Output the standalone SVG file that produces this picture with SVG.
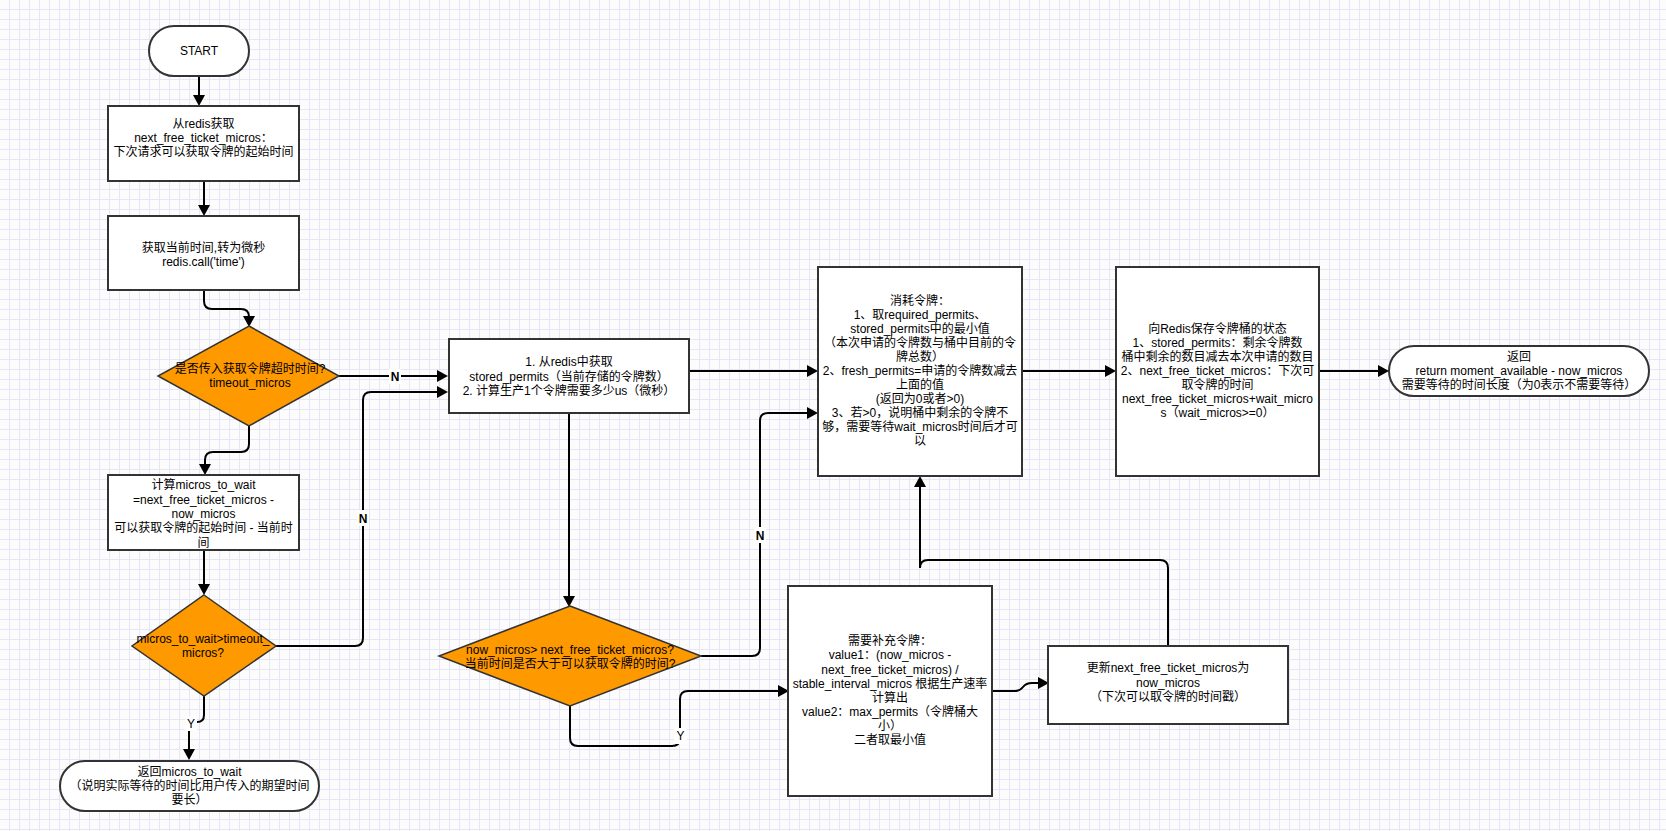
<svg xmlns="http://www.w3.org/2000/svg" width="1666" height="831" viewBox="0 0 1666 831">
<defs>
<pattern id="grid" x="0" y="0" width="10" height="10" patternUnits="userSpaceOnUse">
<path d="M9.5 0V10M0 9.5H10" fill="none" stroke="#e6e6f7" stroke-width="1"/>
</pattern>
<marker id="arr" viewBox="0 0 11 12" markerWidth="11" markerHeight="12" refX="1" refY="6" orient="auto" markerUnits="userSpaceOnUse">
<path d="M0,0 L11,6 L0,12 Z" fill="#000"/>
</marker>
<style>
.box{fill:#fff;stroke:#333;stroke-width:2}
.dia{fill:#ff9900;stroke:#333;stroke-width:1.5}
.t{font-family:"Liberation Sans","Noto Sans CJK SC",sans-serif;font-size:12px;fill:#000;text-anchor:middle}
.edge{fill:none;stroke:#000;stroke-width:2}
.lbl{font-family:"Liberation Sans","Noto Sans CJK SC",sans-serif;font-size:12px;fill:#000;text-anchor:middle}
.lb{fill:#fff}
</style>
</defs>
<rect width="1666" height="831" fill="#fcfcfd"/>
<rect width="1666" height="831" fill="url(#grid)"/>

<g id="connectors">
<path class="edge" d="M199,76 V96" marker-end="url(#arr)"/>
<path class="edge" d="M204,181 V206" marker-end="url(#arr)"/>
<path class="edge" d="M204,290 V301 Q204,309 212,309 H241 Q249,309 249,317" marker-end="url(#arr)"/>
<path class="edge" d="M339,376 H438" marker-end="url(#arr)"/>
<path class="edge" d="M249,426 V444 Q249,452 241,452 H213 Q205,452 205,460 V465" marker-end="url(#arr)"/>
<path class="edge" d="M204,550 V585" marker-end="url(#arr)"/>
<path class="edge" d="M276,646 H355 Q363,646 363,638 V400 Q363,392 371,392 H438" marker-end="url(#arr)"/>
<path class="edge" d="M204,696 V715 Q204,722 197,722 H196 Q189,722 189,729 V750" marker-end="url(#arr)"/>
<path class="edge" d="M689,371 H808" marker-end="url(#arr)"/>
<path class="edge" d="M569,413 V597" marker-end="url(#arr)"/>
<path class="edge" d="M701,656 H752 Q760,656 760,648 V421 Q760,413 768,413 H808" marker-end="url(#arr)"/>
<path class="edge" d="M570,706 V738 Q570,746 578,746 H672 Q680,746 680,738 V699 Q680,691 688,691 H779" marker-end="url(#arr)"/>
<path class="edge" d="M1022,371 H1106" marker-end="url(#arr)"/>
<path class="edge" d="M1319,371 H1379" marker-end="url(#arr)"/>
<path class="edge" d="M992,691 H1015 Q1020,691 1023,687 Q1026,683 1032,683 H1039" marker-end="url(#arr)"/>
<path class="edge" d="M1168,646 V568 Q1168,560 1160,560 H928 Q920,560 920,568 V486" marker-end="url(#arr)"/>
<rect class="lb" x="389" y="369" width="12" height="15"/>
<text class="lbl" x="395" y="380.5" font-weight="bold">N</text>
<rect class="lb" x="357" y="510" width="12" height="16"/>
<text class="lbl" x="363" y="522.5" font-weight="bold">N</text>
<rect class="lb" x="754" y="527" width="12" height="16"/>
<text class="lbl" x="760" y="539.5" font-weight="bold">N</text>
<rect class="lb" x="185" y="716" width="12" height="15"/>
<text class="lbl" x="191" y="727.5">Y</text>
<rect class="lb" x="674" y="728" width="13" height="16"/>
<text class="lbl" x="680.5" y="740">Y</text>
</g>

<g id="start">
<rect class="box" x="149" y="26" width="100" height="50" rx="25" ry="25"/>
<text class="t" x="199" y="55">START</text>
</g>

<g id="get-next-free">
<rect class="box" x="108" y="106" width="191" height="75"/>
<text class="t"><tspan x="203.5" y="127.5">从redis获取</tspan><tspan x="203.5" y="141.8">next_free_ticket_micros：</tspan><tspan x="203.5" y="156.1">下次请求可以获取令牌的起始时间</tspan></text>
</g>

<g id="get-time">
<rect class="box" x="108" y="216" width="191" height="74"/>
<text class="t"><tspan x="203.5" y="251.7">获取当前时间,转为微秒</tspan><tspan x="203.5" y="265.5">redis.call('time')</tspan></text>
</g>

<g id="has-timeout">
<polygon class="dia" points="249,326 339,376 249,426 158,376"/>
<text class="t"><tspan x="250" y="373.3">是否传入获取令牌超时时间?</tspan><tspan x="250" y="387.3">timeout_micros</tspan></text>
</g>

<g id="calc-wait">
<rect class="box" x="108" y="475" width="191" height="75"/>
<text class="t"><tspan x="203.5" y="489.3">计算micros_to_wait</tspan><tspan x="203.5" y="503.6">=next_free_ticket_micros -</tspan><tspan x="203.5" y="517.9">now_micros</tspan><tspan x="203.5" y="532.2">可以获取令牌的起始时间 - 当前时</tspan><tspan x="203.5" y="546.5">间</tspan></text>
</g>

<g id="wait-gt-timeout">
<polygon class="dia" points="204,595 276,646 204,696 132,646"/>
<text class="t"><tspan x="203" y="643.3">micros_to_wait&gt;timeout_</tspan><tspan x="203" y="657.3">micros?</tspan></text>
</g>

<g id="return-wait">
<rect class="box" x="60" y="761" width="259" height="50" rx="25" ry="25"/>
<text class="t"><tspan x="189.5" y="776.3">返回micros_to_wait</tspan><tspan x="189.5" y="790.3">（说明实际等待的时间比用户传入的期望时间</tspan><tspan x="189.5" y="804.3">要长）</tspan></text>
</g>

<g id="stored-permits">
<rect class="box" x="449" y="339" width="240" height="74"/>
<text class="t"><tspan x="569" y="366.3">1. 从redis中获取</tspan><tspan x="569" y="380.6">stored_permits（当前存储的令牌数）</tspan><tspan x="569" y="394.9">2. 计算生产1个令牌需要多少us（微秒）</tspan></text>
</g>

<g id="now-gt-next">
<polygon class="dia" points="570,606 701,656 570,706 439,656"/>
<text class="t"><tspan x="570" y="654.3">now_micros&gt; next_free_ticket_micros?</tspan><tspan x="570" y="668.3">当前时间是否大于可以获取令牌的时间?</tspan></text>
</g>

<g id="consume">
<rect class="box" x="818" y="267" width="204" height="209"/>
<text class="t"><tspan x="920" y="305">消耗令牌：</tspan><tspan x="920" y="319">1、取required_permits、</tspan><tspan x="920" y="333.1">stored_permits中的最小值</tspan><tspan x="920" y="347.1">（本次申请的令牌数与桶中目前的令</tspan><tspan x="920" y="361.1">牌总数）</tspan><tspan x="920" y="375.2">2、fresh_permits=申请的令牌数减去</tspan><tspan x="920" y="389.2">上面的值</tspan><tspan x="920" y="403.2">(返回为0或者&gt;0)</tspan><tspan x="920" y="417.3">3、若&gt;0，说明桶中剩余的令牌不</tspan><tspan x="920" y="431.3">够，需要等待wait_micros时间后才可</tspan><tspan x="920" y="445.3">以</tspan></text>
</g>

<g id="save-state">
<rect class="box" x="1116" y="267" width="203" height="209"/>
<text class="t"><tspan x="1217.5" y="333.3">向Redis保存令牌桶的状态</tspan><tspan x="1217.5" y="347.3">1、stored_permits：剩余令牌数</tspan><tspan x="1217.5" y="361.3">桶中剩余的数目减去本次申请的数目</tspan><tspan x="1217.5" y="375.3">2、next_free_ticket_micros：下次可</tspan><tspan x="1217.5" y="389.3">取令牌的时间</tspan><tspan x="1217.5" y="403.3">next_free_ticket_micros+wait_micro</tspan><tspan x="1217.5" y="417.3">s（wait_micros&gt;=0）</tspan></text>
</g>

<g id="return-end">
<rect class="box" x="1389" y="346" width="260" height="50" rx="25" ry="25"/>
<text class="t"><tspan x="1519" y="361.3">返回</tspan><tspan x="1519" y="375.3">return moment_available - now_micros</tspan><tspan x="1519" y="389.3">需要等待的时间长度（为0表示不需要等待）</tspan></text>
</g>

<g id="refill">
<rect class="box" x="788" y="586" width="204" height="210"/>
<text class="t"><tspan x="890" y="645.3">需要补充令牌：</tspan><tspan x="890" y="659.4">value1：(now_micros -</tspan><tspan x="890" y="673.6">next_free_ticket_micros) /</tspan><tspan x="890" y="687.7">stable_interval_micros 根据生产速率</tspan><tspan x="890" y="701.9">计算出</tspan><tspan x="890" y="716">value2：max_permits（令牌桶大</tspan><tspan x="890" y="730.1">小）</tspan><tspan x="890" y="744.3">二者取最小值</tspan></text>
</g>

<g id="update-next">
<rect class="box" x="1048" y="646" width="240" height="78"/>
<text class="t"><tspan x="1168" y="672.3">更新next_free_ticket_micros为</tspan><tspan x="1168" y="686.6">now_micros</tspan><tspan x="1168" y="700.9">（下次可以取令牌的时间戳）</tspan></text>
</g>
</svg>
